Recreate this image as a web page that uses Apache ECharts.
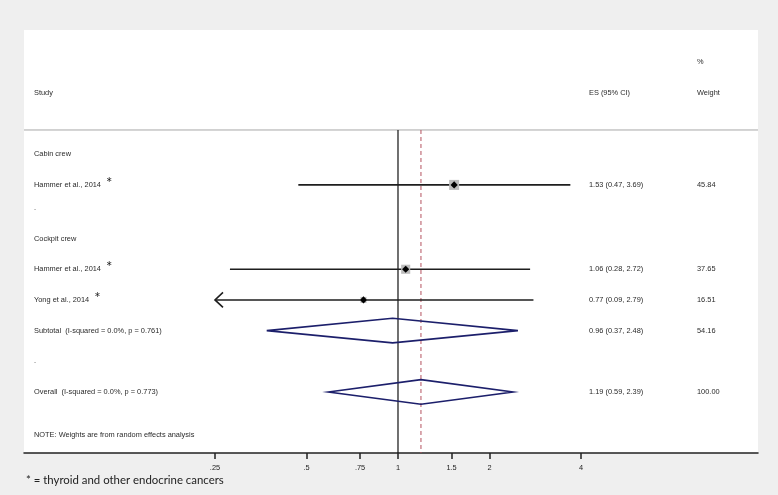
<!DOCTYPE html>
<html><head><meta charset="utf-8">
<script src="https://cdn.jsdelivr.net/npm/echarts@6/dist/echarts.min.js"></script>
<style>html,body{margin:0;padding:0;background:#efefef}#c{width:778px;height:495px}</style>
</head><body><div id="c"></div>
<script>
// ---- data ----
const rowLabels = ['Cabin crew', 'Hammer et al., 2014', '.', 'Cockpit crew', 'Hammer et al., 2014', 'Yong et al., 2014',
  'Subtotal  (I-squared = 0.0%, p = 0.761)', '.', 'Overall  (I-squared = 0.0%, p = 0.773)',
  'NOTE: Weights are from random effects analysis'];
const rowPos = [0, 1, 1.75, 2.75, 3.75, 4.75, 5.75, 6.75, 7.75, 9.16];
const rowKind = ['head', 'study', 'blank', 'head', 'study', 'study', 'pooled', 'blank', 'pooled', 'note'];
const starred = [false, true, false, false, true, true, false, false, false, false];
const esValues = [null, 1.53, null, null, 1.06, 0.77, 0.96, null, 1.19, null];
const ciLow = [null, 0.47, null, null, 0.28, 0.09, 0.37, null, 0.59, null];
const ciHigh = [null, 3.69, null, null, 2.72, 2.79, 2.48, null, 2.39, null];
const weights = [null, 45.84, null, null, 37.65, 16.51, 54.16, null, 100.00, null];
const headerTop = '%';
const headerCols = ['Study', 'ES (95% CI)', 'Weight'];
const headerPos = [-3.0, -2.0];
const separatorPos = -0.79;
const overallIndex = 8;
const tickValues = [0.25, 0.5, 0.75, 1, 1.5, 2, 4];
const tickLabels = ['.25', '.5', '.75', '1', '1.5', '2', '4'];
const plotFloor = 0.25;
const footnote = '* = thyroid and other endocrine cancers';

// ---- layout / style ----
const FONT = 'Liberation Sans';
const FS = 7.4;
const TXT = '#2a2a2a';
const colES = 565, colW = 673, colLabel = 10;
const ln = Math.log;

const chart = echarts.init(document.getElementById('c'));

function frameRender(params, api) {
  const cs = params.coordSys;
  const ySep = api.coord([0, separatorPos])[1];
  const yBot = cs.y + cs.height;
  const x1 = api.coord([ln(1), 0])[0];
  const xo = api.coord([ln(esValues[overallIndex]), 0])[0];
  const yTop = api.coord([0, headerPos[0]])[1];
  const yHead = api.coord([0, headerPos[1]])[1];
  const t = (x, y, s) => ({type: 'text', style: {x: x, y: y, text: s, fill: TXT, fontSize: FS, fontFamily: FONT, verticalAlign: 'middle', align: 'left'}});
  return {type: 'group', children: [
    {type: 'line', shape: {x1: cs.x, y1: ySep, x2: cs.x + cs.width, y2: ySep}, style: {stroke: '#a8a8a8', lineWidth: 1}},
    {type: 'line', shape: {x1: x1, y1: ySep, x2: x1, y2: yBot}, style: {stroke: '#111', lineWidth: 1.2}},
    {type: 'line', shape: {x1: xo, y1: ySep, x2: xo, y2: yBot}, style: {stroke: '#b4525f', lineWidth: 1, lineDash: [4, 3]}},
    t(cs.x + colW, yTop, headerTop),
    t(cs.x + colLabel, yHead, headerCols[0]),
    t(cs.x + colES, yHead, headerCols[1]),
    t(cs.x + colW, yHead, headerCols[2])
  ]};
}

function rowRender(params, api) {
  const i = params.dataIndex;
  const cs = params.coordSys;
  const y = api.coord([0, rowPos[i]])[1];
  const children = [];
  const label = starred[i]
    ? {type: 'text', style: {x: cs.x + colLabel, y: y, text: '{t|' + rowLabels[i] + '}{s|*}', verticalAlign: 'middle', align: 'left',
        rich: {t: {fill: TXT, fontSize: FS, fontFamily: FONT, verticalAlign: 'middle'},
               s: {fill: '#222', fontSize: 15, fontFamily: 'Lato', padding: [0, 0, 4, 5], verticalAlign: 'middle'}}}}
    : {type: 'text', style: {x: cs.x + colLabel, y: y, text: rowLabels[i], fill: TXT, fontSize: FS, fontFamily: FONT, verticalAlign: 'middle', align: 'left'}};
  children.push(label);
  if (esValues[i] != null) {
    const txt = esValues[i].toFixed(2) + ' (' + ciLow[i].toFixed(2) + ', ' + ciHigh[i].toFixed(2) + ')';
    children.push({type: 'text', style: {x: cs.x + colES, y: y, text: txt, fill: TXT, fontSize: FS, fontFamily: FONT, verticalAlign: 'middle', align: 'left'}});
    children.push({type: 'text', style: {x: cs.x + colW, y: y, text: weights[i].toFixed(2), fill: TXT, fontSize: FS, fontFamily: FONT, verticalAlign: 'middle', align: 'left'}});
    const xe = api.coord([ln(esValues[i]), 0])[0];
    const lowClipped = ciLow[i] < plotFloor;
    const xl = api.coord([ln(Math.max(ciLow[i], plotFloor)), 0])[0];
    const xh = api.coord([ln(ciHigh[i]), 0])[0];
    if (rowKind[i] === 'study') {
      const side = 1.48 * Math.sqrt(weights[i]);
      children.push({type: 'line', shape: {x1: xl, y1: y, x2: xh, y2: y}, style: {stroke: '#1e1e1e', lineWidth: 1.6}});
      if (lowClipped) {
        children.push({type: 'polyline', shape: {points: [[xl + 8, y - 7.5], [xl, y], [xl + 8, y + 7.5]]}, style: {stroke: '#1e1e1e', lineWidth: 1.6, fill: null}});
      }
      children.push({type: 'rect', shape: {x: xe - side / 2, y: y - side / 2, width: side, height: side}, style: {fill: '#bcbcbc'}});
      children.push({type: 'polygon', shape: {points: [[xe - 3.6, y], [xe, y - 3.6], [xe + 3.6, y], [xe, y + 3.6]]}, style: {fill: '#000'}});
    } else if (rowKind[i] === 'pooled') {
      const h = 12.3;
      children.push({type: 'polygon', shape: {points: [[xl, y], [xe, y - h], [xh, y], [xe, y + h]]}, style: {fill: 'none', stroke: '#1c1f6b', lineWidth: 1.6}});
    }
  }
  return {type: 'group', children: children};
}

const tickLn = tickValues.map(v => ln(v));

chart.setOption({
  backgroundColor: '#efefef',
  animation: false,
  grid: {left: 24, right: 20, top: 30, bottom: 42, show: true, backgroundColor: '#ffffff', borderWidth: 0},
  xAxis: {
    type: 'value', min: -2.833, max: 2.727,
    axisLine: {onZero: false, lineStyle: {color: '#222', width: 1.5}},
    axisTick: {customValues: tickLn, length: 6, lineStyle: {color: '#222', width: 1.5}},
    axisLabel: {customValues: tickLn, margin: 11, fontSize: FS, color: '#222', fontFamily: FONT,
      formatter: function (v) {
        let best = 0;
        tickLn.forEach((t, k) => { if (Math.abs(t - v) < Math.abs(tickLn[best] - v)) best = k; });
        return tickLabels[best];
      }},
    splitLine: {show: false}
  },
  yAxis: {type: 'value', inverse: true, min: -4.05, max: 9.74, show: false},
  graphic: [{type: 'text', left: 26, top: 475, style: {text: footnote, fontSize: 11.4, fontFamily: 'Lato', fill: '#222'}}],
  series: [
    {type: 'custom', renderItem: frameRender, data: [[0, 0]], clip: false, silent: true, z: 1},
    {type: 'custom', renderItem: rowRender, data: rowPos.map(p => [0, p]), clip: false, silent: true, z: 2}
  ]
});
</script></body></html>
